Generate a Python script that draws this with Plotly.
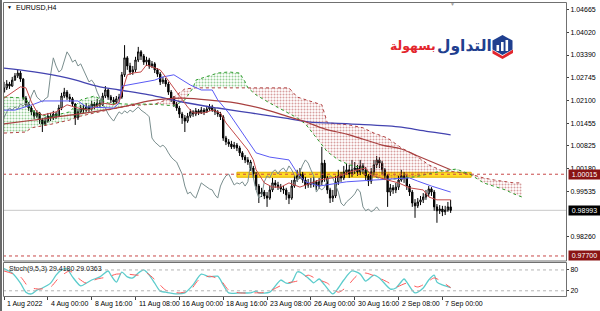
import plotly.graph_objects as go

# ---------------- data ----------------
time_tick_idx = [0, 16, 32, 48, 64, 80, 96, 112, 128, 144, 160]
time_tick_text = ["1 Aug 2022", "4 Aug 00:00", "8 Aug 16:00", "11 Aug 08:00", "16 Aug 00:00",
                  "18 Aug 16:00", "23 Aug 08:00", "26 Aug 00:00", "30 Aug 16:00", "2 Sep 08:00", "7 Sep 00:00"]
price_ticks = [1.04665, 1.04020, 1.03390, 1.02745, 1.02100, 1.01455, 1.00825, 1.00180,
               0.99535, 0.98260]

first_open = 1.0234
close = [
    1.0246, 1.0257, 1.0251, 1.0268, 1.0280, 1.0288, 1.0271, 1.0217, 1.0200, 1.0189,
    1.0178, 1.0166, 1.0175, 1.0155, 1.0144, 1.0152, 1.0166, 1.0161, 1.0172, 1.0166,
    1.0189, 1.0223, 1.0234, 1.0220, 1.0215, 1.0200, 1.0161, 1.0178, 1.0189, 1.0183,
    1.0192, 1.0186, 1.0200, 1.0195, 1.0203, 1.0198, 1.0223, 1.0240, 1.0220, 1.0212,
    1.0206, 1.0215, 1.0220, 1.0283, 1.0331, 1.0308, 1.0291, 1.0297, 1.0325, 1.0348,
    1.0336, 1.0319, 1.0325, 1.0308, 1.0314, 1.0297, 1.0285, 1.0263, 1.0268, 1.0257,
    1.0234, 1.0217, 1.0200, 1.0189, 1.0172, 1.0161, 1.0152, 1.0166, 1.0178, 1.0172,
    1.0181, 1.0175, 1.0183, 1.0178, 1.0186, 1.0192, 1.0183, 1.0178, 1.0172, 1.0164,
    1.0104, 1.0093, 1.0087, 1.0079, 1.0084, 1.0076, 1.0062, 1.0050, 1.0042, 1.0036,
    1.0019, 1.0002, 0.9968, 0.9946, 0.9951, 0.9940, 0.9934, 0.9957, 0.9977, 0.9971,
    0.9965, 0.9960, 0.9957, 0.9943, 0.9934, 0.9968, 0.9985, 0.9997, 1.0002, 0.9985,
    0.9971, 0.9977, 0.9974, 0.9980, 0.9968, 0.9980, 1.0033, 0.9991, 0.9957, 0.9934,
    0.9940, 0.9980, 0.9997, 0.9991, 1.0008, 1.0014, 1.0002, 1.0014, 1.0019, 1.0008,
    1.0025, 1.0014, 0.9997, 0.9982, 1.0008, 1.0028, 1.0042, 1.0033, 1.0014, 0.9997,
    0.9951, 0.9963, 0.9957, 0.9965, 0.9985, 0.9997, 0.9991, 0.9968, 0.9951, 0.9920,
    0.9912, 0.9923, 0.9929, 0.9937, 0.9946, 0.9960, 0.9951, 0.9909, 0.9898, 0.9903,
    0.9895, 0.9900, 0.9909, 0.9899]
high = [
    1.0263, 1.0268, 1.0263, 1.0277, 1.0288, 1.0297, 1.0294, 1.0274, 1.0223, 1.0206,
    1.0195, 1.0183, 1.0183, 1.0178, 1.0161, 1.0164, 1.0175, 1.0175, 1.0181, 1.0178,
    1.0198, 1.0232, 1.0246, 1.0240, 1.0229, 1.0220, 1.0203, 1.0186, 1.0198, 1.0198,
    1.0203, 1.0198, 1.0209, 1.0206, 1.0215, 1.0212, 1.0232, 1.0251, 1.0243, 1.0226,
    1.0220, 1.0223, 1.0229, 1.0291, 1.0367, 1.0336, 1.0317, 1.0308, 1.0334, 1.0362,
    1.0353, 1.0342, 1.0334, 1.0331, 1.0322, 1.0319, 1.0302, 1.0291, 1.0277, 1.0274,
    1.0263, 1.0240, 1.0223, 1.0206, 1.0195, 1.0178, 1.0169, 1.0175, 1.0186, 1.0183,
    1.0189, 1.0186, 1.0192, 1.0189, 1.0195, 1.0200, 1.0198, 1.0189, 1.0183, 1.0178,
    1.0169, 1.0110, 1.0101, 1.0096, 1.0093, 1.0090, 1.0082, 1.0067, 1.0056, 1.0050,
    1.0042, 1.0025, 1.0008, 0.9974, 0.9963, 0.9957, 0.9951, 0.9968, 0.9991, 0.9985,
    0.9980, 0.9974, 0.9968, 0.9963, 0.9951, 0.9985, 0.9997, 1.0014, 1.0019, 1.0008,
    0.9994, 0.9988, 0.9991, 0.9994, 0.9985, 0.9991, 1.0079, 1.0042, 0.9997, 0.9963,
    0.9957, 0.9997, 1.0014, 1.0008, 1.0025, 1.0031, 1.0028, 1.0042, 1.0036, 1.0028,
    1.0042, 1.0033, 1.0022, 1.0002, 1.0019, 1.0042, 1.0053, 1.0050, 1.0039, 1.0019,
    1.0002, 0.9974, 0.9971, 0.9977, 0.9997, 1.0014, 1.0008, 0.9999, 0.9974, 0.9957,
    0.9931, 0.9934, 0.9940, 0.9948, 0.9957, 0.9968, 0.9965, 0.9957, 0.9917, 0.9914,
    0.9912, 0.9912, 0.9923, 0.9929]
low = [
    1.0234, 1.0240, 1.0243, 1.0249, 1.0266, 1.0274, 1.0263, 1.0212, 1.0192, 1.0181,
    1.0169, 1.0158, 1.0161, 1.0144, 1.0121, 1.0138, 1.0147, 1.0152, 1.0155, 1.0158,
    1.0164, 1.0183, 1.0217, 1.0212, 1.0206, 1.0192, 1.0141, 1.0155, 1.0172, 1.0175,
    1.0178, 1.0178, 1.0181, 1.0186, 1.0189, 1.0189, 1.0195, 1.0217, 1.0212, 1.0203,
    1.0198, 1.0200, 1.0209, 1.0215, 1.0277, 1.0297, 1.0283, 1.0283, 1.0291, 1.0319,
    1.0325, 1.0311, 1.0308, 1.0300, 1.0302, 1.0288, 1.0277, 1.0254, 1.0257, 1.0249,
    1.0226, 1.0206, 1.0192, 1.0181, 1.0161, 1.0144, 1.0121, 1.0147, 1.0161, 1.0164,
    1.0166, 1.0169, 1.0172, 1.0169, 1.0175, 1.0181, 1.0178, 1.0169, 1.0164, 1.0155,
    1.0096, 1.0084, 1.0079, 1.0073, 1.0073, 1.0067, 1.0053, 1.0042, 1.0033, 1.0028,
    1.0011, 0.9991, 0.9957, 0.9920, 0.9937, 0.9931, 0.9909, 0.9929, 0.9951, 0.9963,
    0.9957, 0.9951, 0.9946, 0.9929, 0.9917, 0.9929, 0.9963, 0.9980, 0.9988, 0.9977,
    0.9960, 0.9963, 0.9963, 0.9965, 0.9957, 0.9960, 0.9971, 0.9980, 0.9946, 0.9920,
    0.9923, 0.9934, 0.9971, 0.9980, 0.9985, 0.9999, 0.9991, 0.9994, 1.0002, 0.9997,
    0.9999, 1.0002, 0.9985, 0.9968, 0.9974, 0.9999, 1.0019, 1.0019, 1.0002, 0.9985,
    0.9909, 0.9940, 0.9946, 0.9948, 0.9957, 0.9980, 0.9977, 0.9957, 0.9940, 0.9909,
    0.9878, 0.9906, 0.9914, 0.9920, 0.9929, 0.9937, 0.9940, 0.9898, 0.9864, 0.9889,
    0.9883, 0.9886, 0.9895, 0.9892]

chikou_shift = 26

ma_slow_blue_x = [0, 11, 23, 35, 42, 53, 65, 78, 90, 102, 111, 126, 145, 151, 163]
ma_slow_blue = [1.0302, 1.0291, 1.0274, 1.0249, 1.0240, 1.0226, 1.0206, 1.0189, 1.0175, 1.0161,
                1.0150, 1.0144, 1.0135, 1.0127, 1.0113]
ma_slow_red_x = [0, 11, 30, 45, 53, 65, 78, 85, 96, 104, 110, 117, 126, 138, 145, 151, 163]
ma_slow_red = [1.0144, 1.0155, 1.0175, 1.0195, 1.0209, 1.0217, 1.0209, 1.0203, 1.0183, 1.0164,
               1.0150, 1.0130, 1.0113, 1.0084, 1.0073, 1.0053, 1.0014]
kijun_x = [0, 4, 11, 14, 27, 30, 40, 42, 43, 50, 55, 58, 62, 68, 72, 76, 78, 82, 87, 92,
           97, 104, 107, 110, 115, 125, 135, 148, 151, 156, 163]
kijun = [1.0183, 1.0183, 1.0200, 1.0209, 1.0209, 1.0192, 1.0189, 1.0203, 1.0251, 1.0260,
         1.0268, 1.0277, 1.0283, 1.0254, 1.0240, 1.0240, 1.0212, 1.0175, 1.0118, 1.0062,
         1.0050, 1.0042, 1.0005, 0.9980, 0.9968, 0.9980, 0.9985, 0.9991, 0.9982, 0.9968, 0.9951]
tenkan_x = [0, 3, 6, 8, 10, 12, 14, 19, 23, 27, 31, 36, 40, 42, 45, 47, 50, 52, 54, 57,
            59, 62, 65, 67, 69, 73, 76, 79, 81, 85, 89, 91, 92, 95, 98, 101, 104, 108, 112, 115,
            122, 126, 132, 134, 140, 144, 148, 153, 155, 158, 163]
tenkan = [1.0217, 1.0234, 1.0249, 1.0246, 1.0206, 1.0178, 1.0169, 1.0178, 1.0198, 1.0189,
          1.0183, 1.0203, 1.0198, 1.0206, 1.0283, 1.0288, 1.0291, 1.0311, 1.0305, 1.0297,
          1.0277, 1.0246, 1.0212, 1.0192, 1.0175, 1.0175, 1.0183, 1.0175, 1.0147, 1.0107,
          1.0070, 1.0042, 1.0014, 0.9977, 0.9965, 0.9965, 0.9977, 0.9965, 0.9977, 0.9985,
          0.9994, 1.0008, 1.0019, 0.9999, 0.9985, 0.9977, 0.9963, 0.9957, 0.9937, 0.9929, 0.9929]
cloud_x = [0, 8, 10, 16, 24, 28, 33, 38, 45, 55, 62, 66, 69, 70, 78, 82, 86, 88, 89, 92,
           97, 104, 107, 110, 116, 118, 122, 126, 131, 135, 140, 145, 150, 155, 160, 165, 170, 175, 179, 183,
           186, 189]
senkou_a = [1.0220, 1.0217, 1.0183, 1.0164, 1.0178, 1.0212, 1.0223, 1.0203, 1.0200, 1.0200,
            1.0195, 1.0212, 1.0246, 1.0268, 1.0288, 1.0291, 1.0288, 1.0263, 1.0246, 1.0226,
            1.0203, 1.0175, 1.0161, 1.0144, 1.0084, 1.0065, 1.0042, 1.0028, 1.0019, 0.9994,
            0.9985, 0.9991, 0.9994, 1.0002, 1.0011, 1.0016, 1.0002, 0.9977, 0.9968, 0.9957,
            0.9946, 0.9937]
senkou_b = [1.0118, 1.0121, 1.0133, 1.0141, 1.0155, 1.0166, 1.0175, 1.0183, 1.0195, 1.0200,
            1.0220, 1.0243, 1.0246, 1.0246, 1.0246, 1.0246, 1.0246, 1.0246, 1.0246, 1.0246,
            1.0246, 1.0246, 1.0220, 1.0212, 1.0198, 1.0147, 1.0144, 1.0141, 1.0133, 1.0118,
            1.0104, 1.0076, 1.0056, 1.0028, 1.0011, 1.0008, 1.0002, 0.9991, 0.9985, 0.9980,
            0.9977, 0.9977]

stoch_k_x = [0, 3, 6, 8, 10, 12, 14, 17, 19, 21, 23, 25, 28, 30, 32, 35, 38, 39, 41, 43,
             45, 47, 49, 51, 53, 55, 57, 59, 63, 66, 69, 72, 75, 78, 80, 82, 86, 90, 92, 93,
             97, 101, 103, 105, 107, 108, 111, 113, 115, 117, 120, 122, 124, 127, 130, 132, 135, 137, 141, 143,
             146, 147, 150, 153, 155, 157, 158, 160, 163]
stoch_k = [84, 71, 42, 16, 11, 22, 28, 42, 65, 80, 83, 60, 34, 42, 51, 60, 77, 65, 45, 74,
           60, 57, 71, 80, 65, 42, 19, 16, 11, 14, 37, 68, 60, 62, 37, 14, 14, 14, 19, 14,
           16, 51, 42, 45, 74, 74, 57, 43, 54, 37, 11, 28, 51, 77, 68, 48, 65, 57, 25, 28,
           54, 45, 14, 28, 51, 65, 45, 37, 29.418]
stoch_d_x = [0, 6, 9, 13, 17, 20, 24, 27, 30, 34, 38, 41, 45, 49, 52, 56, 59, 64, 68, 71,
             75, 79, 82, 86, 91, 96, 100, 103, 107, 111, 114, 118, 122, 125, 129, 132, 136, 140, 143, 147,
             151, 154, 157, 160, 163]
stoch_d = [77, 60, 31, 25, 31, 57, 77, 57, 42, 54, 60, 68, 68, 65, 71, 45, 22, 14, 22, 51,
           62, 51, 22, 14, 14, 16, 31, 42, 48, 65, 54, 42, 16, 31, 65, 71, 60, 45, 31, 42,
           31, 42, 57, 45, 29.036]
stoch_levels = [20, 80]

level_lines = [1.00015, 0.97700]
bid_price = 0.98993
band_x = [85, 170.5]
band_y = [0.9993, 1.0007]

# ---------------- geometry helpers ----------------
W, H = 600, 311
L, R, T, B = 3, 34, 3, 15
PW, PH = W - L - R, H - T - B


def px(x):
    return (x - L) / PW


def py(y):
    return (H - B - y) / PH


N = len(close)
idx = list(range(N))
opens = [first_open] + close[:-1]

fig = go.Figure()

# Ichimoku cloud (hatched)
GREEN = "#2f9e2f"
BROWN = "#b04040"
segs, cur = [], [0]
for k in range(1, len(cloud_x)):
    cur.append(k)
    if senkou_a[k] == senkou_b[k] and k != len(cloud_x) - 1:
        segs.append(cur)
        cur = [k]
segs.append(cur)
for seg in segs:
    xs = [cloud_x[k] for k in seg]
    aa = [senkou_a[k] for k in seg]
    bb = [senkou_b[k] for k in seg]
    col = GREEN if sum(a - b for a, b in zip(aa, bb)) > 0 else BROWN
    fig.add_trace(go.Scatter(x=xs, y=bb, mode="lines", line=dict(width=0), hoverinfo="skip",
                             showlegend=False))
    fig.add_trace(go.Scatter(x=xs, y=aa, mode="lines", line=dict(width=0), hoverinfo="skip",
                             showlegend=False, fill="tonexty", fillcolor="rgba(0,0,0,0)",
                             fillpattern=dict(shape=".", fgcolor=col, bgcolor="rgba(0,0,0,0)",
                                              size=3, solidity=0.35)))
fig.add_trace(go.Scatter(x=cloud_x, y=senkou_b, mode="lines", line=dict(color=BROWN, width=1, dash="dot"),
                         hoverinfo="skip", showlegend=False))
fig.add_trace(go.Scatter(x=cloud_x, y=senkou_a, mode="lines", line=dict(color=GREEN, width=1, dash="dot"),
                         hoverinfo="skip", showlegend=False))

# candles
fig.add_trace(go.Candlestick(
    x=idx, open=opens, high=high, low=low, close=close,
    increasing=dict(line=dict(color="#000000", width=1), fillcolor="#ffffff"),
    decreasing=dict(line=dict(color="#000000", width=1), fillcolor="#000000"),
    whiskerwidth=0, showlegend=False, hoverinfo="skip"))

# chikou span
fig.add_trace(go.Scatter(x=[i - chikou_shift for i in idx[chikou_shift:]], y=close[chikou_shift:],
                         mode="lines", line=dict(color="#7a8e8e", width=1), hoverinfo="skip", showlegend=False))
# slow moving averages
fig.add_trace(go.Scatter(x=ma_slow_blue_x, y=ma_slow_blue, mode="lines", line=dict(color="#4343b0", width=1.3, shape="spline"),
                         hoverinfo="skip", showlegend=False))
fig.add_trace(go.Scatter(x=ma_slow_red_x, y=ma_slow_red, mode="lines", line=dict(color="#a84040", width=1.2, shape="spline"),
                         hoverinfo="skip", showlegend=False))
# kijun / tenkan
fig.add_trace(go.Scatter(x=kijun_x, y=kijun, mode="lines", line=dict(color="#5a5af5", width=1),
                         hoverinfo="skip", showlegend=False))
fig.add_trace(go.Scatter(x=tenkan_x, y=tenkan, mode="lines", line=dict(color="#c44a4a", width=1),
                         hoverinfo="skip", showlegend=False))

# stochastic
fig.add_trace(go.Scatter(x=stoch_k_x, y=stoch_k, mode="lines", yaxis="y2",
                         line=dict(color="#5ccccc", width=1.3, shape="spline", smoothing=0.7),
                         hoverinfo="skip", showlegend=False))
fig.add_trace(go.Scatter(x=stoch_d_x, y=stoch_d, mode="lines", yaxis="y2",
                         line=dict(color="#ff5a5a", width=1, dash="dash", shape="spline", smoothing=0.7),
                         hoverinfo="skip", showlegend=False))

FONT = "Liberation Sans"
shapes = []
# yellow band
shapes.append(dict(type="rect", xref="x", yref="y", x0=band_x[0], x1=band_x[1], y0=band_y[0], y1=band_y[1],
                   fillcolor="rgba(255,214,0,0.85)", line=dict(color="#e3b000", width=1), layer="below"))
for lv in level_lines:
    shapes.append(dict(type="line", xref="paper", yref="y", x0=0, x1=1, y0=lv, y1=lv,
                       line=dict(color="#c84848", width=1, dash="dot")))
shapes.append(dict(type="line", xref="paper", yref="y", x0=0, x1=1, y0=bid_price, y1=bid_price,
                   line=dict(color="#c8c8c8", width=1), layer="below"))
for lv in stoch_levels:
    shapes.append(dict(type="line", xref="paper", yref="y2", x0=0, x1=1, y0=lv, y1=lv,
                       line=dict(color="#b4b4b4", width=1, dash="dot")))
# panel frames
shapes.append(dict(type="rect", xref="paper", yref="paper", x0=px(3.5), x1=px(566.5), y0=py(261), y1=py(2.5),
                   line=dict(color="#707070", width=1)))
shapes.append(dict(type="rect", xref="paper", yref="paper", x0=px(3.5), x1=px(566.5), y0=py(296.5), y1=py(262.5),
                   line=dict(color="#707070", width=1)))
shapes.append(dict(type="rect", xref="paper", yref="paper", x0=px(0), x1=px(2), y0=py(311), y1=py(0),
                   line=dict(width=0), fillcolor="#6a6a6a"))


# logo icon
def path(pts):
    return "M " + " L ".join(f"{px(a)},{py(b)}" for a, b in pts) + " Z"


shapes.append(dict(type="path", xref="paper", yref="paper", path=path([(492.5, 50), (502.5, 56), (513, 49.5), (513, 53), (502.5, 59), (492.5, 53.5)]),
                   fillcolor="#e3262d", line=dict(width=0)))
shapes.append(dict(type="path", xref="paper", yref="paper", path=path([(502.5, 35), (512.5, 40.5), (512.5, 49.5), (502.5, 55), (492.5, 49.5), (492.5, 40.5)]),
                   fillcolor="#1f3f8f", line=dict(width=0)))
for bx, btop in [(496.5, 45), (501, 42), (505.5, 40)]:
    shapes.append(dict(type="rect", xref="paper", yref="paper", x0=px(bx), x1=px(bx + 2.6), y0=py(51), y1=py(btop),
                       fillcolor="#ffffff", line=dict(width=0)))

ann = []
ann.append(dict(text="▼", x=px(9), y=py(7), xref="paper", yref="paper", showarrow=False,
                font=dict(size=5, color="#000", family=FONT), xanchor="center", yanchor="middle"))
ann.append(dict(text="EURUSD,H4", x=px(14), y=py(7.5), xref="paper", yref="paper", showarrow=False,
                font=dict(size=7, color="#000", family=FONT), xanchor="left", yanchor="middle"))
ann.append(dict(text="Stoch(9,5,3) 29.4180 29.0363", x=px(7), y=py(268.5), xref="paper", yref="paper", showarrow=False,
                font=dict(size=7, color="#202020", family=FONT), xanchor="left", yanchor="middle"))
ann.append(dict(text="▼", x=163.5, y=py(3.5), xref="x", yref="paper", showarrow=False,
                font=dict(size=5, color="#a0a0a0", family=FONT), xanchor="center", yanchor="middle"))
for i, t in zip(time_tick_idx, time_tick_text):
    ann.append(dict(text=t, x=i, y=py(303.5), xref="x", yref="paper", showarrow=False, xshift=1,
                    font=dict(size=7, color="#000", family=FONT), xanchor="left", yanchor="middle"))
for val, bg in [(level_lines[0], "#8a1414"), (bid_price, "#000000"), (level_lines[1], "#8a1414")]:
    ann.append(dict(text=f"{val:.5f}", x=px(567.5), y=val, xref="paper", yref="y", showarrow=False,
                    xanchor="left", yanchor="middle", bgcolor=bg, borderpad=1, width=29,
                    font=dict(size=7, color="#ffffff", family=FONT)))
# logo text
ann.append(dict(text="<b>التداول</b>", x=px(494), y=py(46), xref="paper", yref="paper", showarrow=False,
                xanchor="right", yanchor="middle", font=dict(size=15.5, color="#1f3f8f", family="DejaVu Sans")))
ann.append(dict(text="<b>بسهولة</b>", x=px(437.5), y=py(46), xref="paper", yref="paper", showarrow=False,
                xanchor="right", yanchor="middle", font=dict(size=12.5, color="#e3262d", family="DejaVu Sans")))

fig.update_layout(
    width=W, height=H, margin=dict(l=L, r=R, t=T, b=B),
    paper_bgcolor="#ffffff", plot_bgcolor="#ffffff", showlegend=False,
    xaxis=dict(range=[-0.365, 205.1], anchor="y2", showgrid=False, zeroline=False, showline=False,
               showticklabels=False, ticks="outside", ticklen=3, tickcolor="#404040",
               tickvals=time_tick_idx, rangeslider=dict(visible=False), fixedrange=True),
    yaxis=dict(domain=[py(261), 1], range=[0.97558, 1.04863], side="right", anchor="x",
               showgrid=False, zeroline=False, showline=False, ticks="outside", ticklen=2,
               tickcolor="#404040", tickvals=price_ticks, ticktext=[f"{v:.5f}" for v in price_ticks],
               tickfont=dict(size=7, color="#000", family=FONT)),
    yaxis2=dict(domain=[0, py(263)], range=[5, 100], side="right", anchor="x",
                showgrid=False, zeroline=False, showline=False, ticks="outside", ticklen=2,
                tickcolor="#404040", tickvals=stoch_levels, ticktext=["20", "80"],
                tickfont=dict(size=7, color="#000", family=FONT)),
    shapes=shapes, annotations=ann,
)

fig.write_html("out.html")
